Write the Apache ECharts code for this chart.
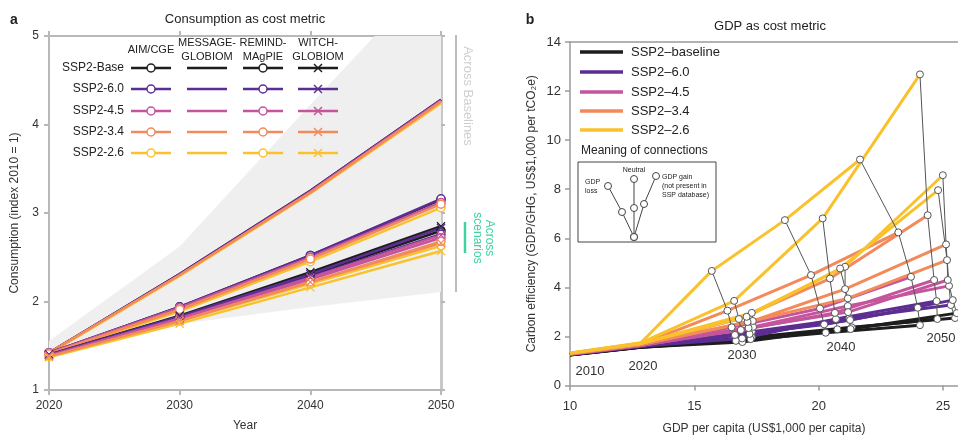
<!DOCTYPE html>
<html>
<head>
<meta charset="utf-8">
<script src="https://cdn.jsdelivr.net/npm/echarts@6/dist/echarts.min.js"></script>
<style>
  html, body { margin: 0; padding: 0; background: #fff; }
  #chart { width: 958px; height: 440px; }
</style>
</head>
<body>
<div id="chart"></div>
<script>
// scenarios, shared by both panels
const scenarios = ['SSP2-Base', 'SSP2-6.0', 'SSP2-4.5', 'SSP2-3.4', 'SSP2-2.6']
const scenariosB = ['SSP2\u2013baseline', 'SSP2\u20136.0', 'SSP2\u20134.5', 'SSP2\u20133.4', 'SSP2\u20132.6']
const colors = ['#1d1d1d', '#5d2e92', '#c4559c', '#f28a5c', '#f9c22c']

// panel a: consumption index, rows = scenarios, cols = years
const yearsA = [2020, 2030, 2040, 2050]
const modelsA = ['AIM/CGE', 'MESSAGE-GLOBIOM', 'REMIND-MAgPIE', 'WITCH-GLOBIOM']
const aimA = [[1.41, 1.83, 2.30, 2.80], [1.41, 1.82, 2.28, 2.76], [1.40, 1.80, 2.25, 2.72], [1.39, 1.79, 2.22, 2.68], [1.38, 1.78, 2.20, 2.63]]
const messageA = [[1.42, 2.31, 3.25, 4.28], [1.42, 2.31, 3.25, 4.28], [1.42, 2.30, 3.24, 4.27], [1.42, 2.30, 3.23, 4.26], [1.41, 2.29, 3.22, 4.24]]
const remindA = [[1.42, 1.94, 2.52, 3.15], [1.42, 1.94, 2.52, 3.16], [1.42, 1.93, 2.50, 3.12], [1.41, 1.91, 2.48, 3.10], [1.40, 1.89, 2.45, 3.06]]
const witchA = [[1.40, 1.84, 2.33, 2.85], [1.40, 1.83, 2.31, 2.83], [1.39, 1.81, 2.27, 2.75], [1.38, 1.78, 2.22, 2.66], [1.37, 1.75, 2.16, 2.57]]
const bandLowA = [1.38, 1.75, 1.94, 2.11]
const bandHighA = [1.55, 2.62, 4.22, 5.80]

// panel b: GDP per capita (x) and carbon efficiency (y), rows = scenarios, cols = 2010..2050
const yearsB = [2010, 2020, 2030, 2040, 2050]
const m1Gdp = [[10.0, 12.8, 16.67, 20.28, 24.07], [10.0, 12.8, 16.63, 20.22, 23.98], [10.0, 12.8, 16.50, 20.05, 23.71], [10.0, 12.8, 16.33, 19.69, 23.20], [10.0, 12.85, 15.70, 18.64, 21.66]]
const m1Eff = [[1.24, 1.55, 1.82, 2.15, 2.46], [1.26, 1.59, 2.06, 2.49, 3.17], [1.27, 1.62, 2.37, 3.14, 4.43], [1.29, 1.66, 3.05, 4.50, 6.24], [1.32, 1.74, 4.67, 6.74, 9.21]]
const m2Gdp = [[10.0, 12.8, 16.93, 20.75, 24.77], [10.0, 12.8, 16.92, 20.69, 24.74], [10.0, 12.8, 16.87, 20.65, 24.64], [10.0, 12.8, 16.79, 20.45, 24.38], [10.0, 12.8, 16.60, 20.16, 24.07]]
const m2Eff = [[1.25, 1.56, 1.77, 2.29, 2.71], [1.27, 1.60, 1.92, 2.71, 3.44], [1.28, 1.63, 2.26, 2.96, 4.30], [1.30, 1.67, 2.71, 4.36, 6.94], [1.33, 1.72, 3.45, 6.81, 12.68]]
const m3Gdp = [[10.0, 12.8, 17.31, 21.33, 25.48], [10.0, 12.8, 17.31, 21.23, 25.31], [10.0, 12.8, 17.36, 21.17, 25.24], [10.0, 12.8, 17.35, 21.06, 25.12], [10.0, 12.8, 17.31, 21.06, 24.99]]
const m3Eff = [[1.25, 1.57, 1.97, 2.37, 2.75], [1.27, 1.60, 2.19, 2.74, 3.28], [1.28, 1.63, 2.39, 3.24, 4.06], [1.30, 1.66, 2.63, 3.93, 5.75], [1.32, 1.70, 2.96, 4.84, 8.57]]
const m4Gdp = [[10.0, 12.8, 17.26, 21.28, 25.55], [10.0, 12.8, 17.22, 21.26, 25.39], [10.0, 12.8, 17.18, 21.18, 25.19], [10.0, 12.8, 17.14, 21.17, 25.16], [10.0, 12.8, 17.10, 20.86, 24.80]]
const m4Eff = [[1.24, 1.56, 1.89, 2.30, 2.95], [1.26, 1.59, 2.10, 2.67, 3.48], [1.28, 1.62, 2.34, 2.99, 4.30], [1.30, 1.66, 2.59, 3.55, 5.11], [1.32, 1.70, 2.80, 4.77, 7.96]]

const FONT = '"Liberation Sans", Arial, sans-serif'
const crossPath = 'path://M0,1L1,0L5,4L9,0L10,1L6,5L10,9L9,10L5,6L1,10L0,9L4,5Z'

const chart = echarts.init(document.getElementById('chart'), null, { renderer: 'canvas' })

// ---- panel a series
const series = []
// "across baselines" grey band, one quad per year step
const bandSegments = yearsA.slice(1).map((y, i) => [yearsA[i], bandLowA[i], bandHighA[i], y, bandLowA[i + 1], bandHighA[i + 1]])
series.push({
  type: 'custom', xAxisIndex: 0, yAxisIndex: 0, z: 1, silent: true, clip: true,
  data: bandSegments,
  renderItem: (params, api) => {
    const a = api.coord([api.value(0), api.value(1)])
    const b = api.coord([api.value(0), api.value(2)])
    const c = api.coord([api.value(3), api.value(5)])
    const d = api.coord([api.value(3), api.value(4)])
    return { type: 'polygon', shape: { points: [a, b, c, d] }, style: { fill: '#efefef', stroke: '#efefef', lineWidth: 0.5 } }
  }
})

const dataA = [aimA, messageA, remindA, witchA]
const symA = ['circle', 'none', 'circle', crossPath]
const drawOrder = [0, 1, 2, 4, 3]  // orange ends up on top where lines overlap
dataA.forEach((rows, m) => {
  drawOrder.forEach(s => {
    const vals = rows[s]
    const isCross = symA[m] === crossPath
    series.push({
      name: modelsA[m] + ' ' + scenarios[s],
      type: 'line', xAxisIndex: 0, yAxisIndex: 0, z: 3,
      data: yearsA.map((y, i) => [y, vals[i]]),
      symbol: symA[m], symbolSize: isCross ? 9 : 8, showSymbol: symA[m] !== 'none',
      lineStyle: { color: colors[s], width: 2.5 },
      itemStyle: isCross
        ? { color: colors[s] }
        : { color: '#fff', borderColor: colors[s], borderWidth: 1.5 }
    })
  })
})

// ---- panel b series
const gdpB = [m1Gdp, m2Gdp, m3Gdp, m4Gdp]
const effB = [m1Eff, m2Eff, m3Eff, m4Eff]
for (let s = 0; s < scenariosB.length; s++) {
  gdpB.forEach((gd, m) => {
    series.push({
      name: scenariosB[s] + ' m' + m,
      type: 'line', xAxisIndex: 2, yAxisIndex: 2, z: 3,
      data: yearsB.map((y, i) => [gd[s][i], effB[m][s][i]]),
      symbol: 'none',
      lineStyle: { color: colors[s], width: 3 }
    })
  })
}
// thin connections between scenarios of the same model and year
gdpB.forEach((gd, m) => {
  for (let i = 2; i < yearsB.length; i++) {
    series.push({
      type: 'line', xAxisIndex: 2, yAxisIndex: 2, z: 5,
      data: scenariosB.map((n, s) => [gd[s][i], effB[m][s][i]]),
      symbol: 'circle', symbolSize: 7,
      lineStyle: { color: '#555', width: 1 },
      itemStyle: { color: '#fff', borderColor: '#555', borderWidth: 1 }
    })
  }
})

// ---- graphics: legends, side bars, labels
const g = []
const txt = (x, y, text, size, opts = {}) => g.push(Object.assign({
  type: 'text', x, y, z: 100,
  style: {
    text, font: (opts.bold ? 'bold ' : '') + size + 'px ' + FONT, fill: opts.fill || '#222',
    textAlign: opts.align || 'center', textVerticalAlign: 'middle', lineHeight: opts.lh || size + 2
  }
}, opts.rotation ? { rotation: opts.rotation } : {}))

txt(14, 20, 'a', 14, { bold: true })
txt(530, 20, 'b', 14, { bold: true })
txt(245, 19, 'Consumption as cost metric', 13)
txt(770, 26, 'GDP as cost metric', 13)

// panel a legend matrix
const colX = [151, 207, 263, 318]
const rowY = [68, 89, 111, 132, 153]
txt(colX[0], 50, modelsA[0], 11)
txt(colX[1], 50, 'MESSAGE-\nGLOBIOM', 11, { lh: 14 })
txt(colX[2], 50, 'REMIND-\nMAgPIE', 11, { lh: 14 })
txt(colX[3], 50, 'WITCH-\nGLOBIOM', 11, { lh: 14 })
scenarios.forEach((name, s) => {
  txt(124, rowY[s], name, 12, { align: 'right' })
  colX.forEach((cx, m) => {
    g.push({ type: 'line', z: 100, shape: { x1: cx - 20, y1: rowY[s], x2: cx + 20, y2: rowY[s] }, style: { stroke: colors[s], lineWidth: 2.5 } })
    if (symA[m] === 'circle') {
      g.push({ type: 'circle', z: 101, shape: { cx, cy: rowY[s], r: 4 }, style: { fill: '#fff', stroke: colors[s], lineWidth: 1.5 } })
    } else if (symA[m] === crossPath) {
      g.push({ type: 'line', z: 101, shape: { x1: cx - 4, y1: rowY[s] - 4, x2: cx + 4, y2: rowY[s] + 4 }, style: { stroke: colors[s], lineWidth: 1.5 } })
      g.push({ type: 'line', z: 101, shape: { x1: cx - 4, y1: rowY[s] + 4, x2: cx + 4, y2: rowY[s] - 4 }, style: { stroke: colors[s], lineWidth: 1.5 } })
    }
  })
})

// across baselines / scenarios markers
g.push({ type: 'line', z: 100, shape: { x1: 456, y1: 35, x2: 456, y2: 292 }, style: { stroke: '#bdbdbd', lineWidth: 2 } })
txt(468, 96, 'Across Baselines', 13, { fill: '#cfcfcf', rotation: -Math.PI / 2 })
g.push({ type: 'line', z: 100, shape: { x1: 465, y1: 222, x2: 465, y2: 253 }, style: { stroke: '#3fd3a0', lineWidth: 2.5 } })
txt(483, 238, 'Across\nscenarios', 12, { fill: '#3fd3a0', rotation: -Math.PI / 2, lh: 12 })

// panel b legend
const rowYB = [52, 72, 92, 111, 130]
scenariosB.forEach((name, s) => {
  g.push({ type: 'line', z: 100, shape: { x1: 580, y1: rowYB[s], x2: 623, y2: rowYB[s] }, style: { stroke: colors[s], lineWidth: 3.5 } })
  txt(631, rowYB[s], name, 13, { align: 'left' })
})
txt(581, 151, 'Meaning of connections', 12, { align: 'left' })
g.push({ type: 'rect', z: 100, shape: { x: 578, y: 162, width: 138, height: 80 }, style: { fill: '#fff', stroke: '#444', lineWidth: 1 } })
const insetChains = [
  [[608, 186], [622, 212], [634, 237]],
  [[634, 179], [634, 208], [634, 237]],
  [[656, 176], [644, 204], [634, 237]]
]
insetChains.forEach(pts => {
  g.push({ type: 'polyline', z: 101, shape: { points: pts }, style: { stroke: '#444', lineWidth: 1, fill: null } })
  pts.forEach(p => g.push({ type: 'circle', z: 102, shape: { cx: p[0], cy: p[1], r: 3.5 }, style: { fill: '#fff', stroke: '#444', lineWidth: 1 } }))
})
txt(585, 187, 'GDP\nloss', 7, { align: 'left', lh: 9 })
txt(634, 170, 'Neutral', 7)
txt(662, 186, 'GDP gain\n(not present in\nSSP database)', 7, { align: 'left', lh: 9 })

// year tags in panel b
const tagPos = [[590, 371], [643, 366], [742, 355], [841, 347], [941, 338]]
yearsB.forEach((y, i) => txt(tagPos[i][0], tagPos[i][1], String(y), 13, { fill: '#333' }))

const axisGrey = { color: '#b8b8b8', width: 2 }
const labelStyle = { color: '#333', fontSize: 12, fontFamily: FONT }
const nameStyle = { color: '#333', fontSize: 12, fontFamily: FONT }
const plain = v => String(v)

const option = {
  animation: false,
  backgroundColor: '#fff',
  textStyle: { fontFamily: FONT },
  grid: [
    { left: 49, right: 517, top: 36, bottom: 50 },
    { left: 570, right: 0, top: 42, bottom: 54.5 }
  ],
  xAxis: [
    {
      gridIndex: 0, type: 'value', min: 2020, max: 2050, interval: 10,
      axisLine: { lineStyle: axisGrey }, axisTick: { length: 5, lineStyle: axisGrey },
      axisLabel: Object.assign({ margin: 10, formatter: plain }, labelStyle), splitLine: { show: false },
      name: 'Year', nameLocation: 'middle', nameGap: 30, nameTextStyle: nameStyle
    },
    {
      gridIndex: 0, type: 'value', position: 'top', min: 2020, max: 2050, interval: 10,
      axisLine: { lineStyle: axisGrey }, axisTick: { length: 5, lineStyle: axisGrey },
      axisLabel: { show: false }, splitLine: { show: false }
    },
    {
      gridIndex: 1, type: 'value', min: 10, max: 25.6, interval: 5, offset: 4,
      axisLine: { lineStyle: { color: '#9a9a9a', width: 1.5 } }, axisTick: { length: 5, lineStyle: { color: '#9a9a9a', width: 1.5 } },
      axisLabel: Object.assign({ margin: 10 }, labelStyle, { fontSize: 13 }), splitLine: { show: false },
      name: 'GDP per capita (US$1,000 per capita)', nameLocation: 'middle', nameGap: 33, nameTextStyle: nameStyle
    },
    {
      gridIndex: 1, type: 'value', position: 'top', min: 10, max: 25.6,
      axisLine: { lineStyle: { color: '#9a9a9a', width: 1.5 } }, axisTick: { show: false },
      axisLabel: { show: false }, splitLine: { show: false }
    }
  ],
  yAxis: [
    {
      gridIndex: 0, type: 'value', min: 1, max: 5, interval: 1,
      axisLine: { show: true, lineStyle: axisGrey }, axisTick: { show: true, length: 5, lineStyle: axisGrey },
      axisLabel: Object.assign({ margin: 10 }, labelStyle), splitLine: { show: false },
      name: 'Consumption (index 2010 = 1)', nameLocation: 'middle', nameGap: 28, nameTextStyle: nameStyle
    },
    {
      gridIndex: 0, type: 'value', position: 'right', min: 1, max: 5, interval: 1,
      axisLine: { show: true, lineStyle: { color: '#c8c8c8', width: 3 } }, axisTick: { show: true, length: 4, lineStyle: axisGrey },
      axisLabel: { show: false }, splitLine: { show: false }
    },
    {
      gridIndex: 1, type: 'value', min: 0, max: 14, interval: 2,
      axisLine: { show: true, lineStyle: { color: '#9a9a9a', width: 1.5 } }, axisTick: { show: true, length: 5, lineStyle: { color: '#9a9a9a', width: 1.5 } },
      axisLabel: Object.assign({ margin: 9 }, labelStyle, { fontSize: 13 }), splitLine: { show: false },
      name: 'Carbon efficiency (GDP/GHG, US$1,000 per tCO\u2082e)', nameLocation: 'middle', nameGap: 32, nameTextStyle: nameStyle
    }
  ],
  series,
  graphic: g
}
chart.setOption(option)
</script>
</body>
</html>
